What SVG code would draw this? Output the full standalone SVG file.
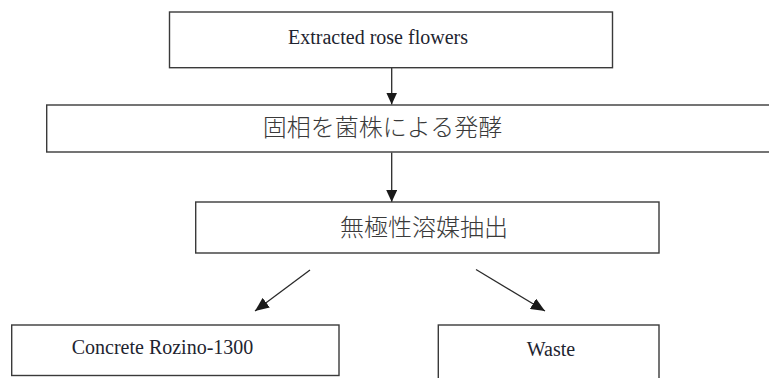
<svg xmlns="http://www.w3.org/2000/svg" width="769" height="378" viewBox="0 0 769 378">
<style>
.box{fill:#fff;stroke:#3a3a3a;stroke-width:1.4}
.en{font-family:"Liberation Serif","Times New Roman",serif;font-size:20px;fill:#1e2430;text-anchor:middle}
.jp{font-family:"Noto Sans CJK JP","Noto Sans CJK SC",sans-serif;font-size:24px;fill:#3a3a3a;text-anchor:middle;font-weight:300}
.conn{stroke:#2a2a2a;stroke-width:1.3;fill:none;marker-end:url(#ah)}
.diag{stroke:#2a2a2a;stroke-width:1.3;fill:none;marker-end:url(#ahd)}
</style>
<defs>
<marker id="ah" markerUnits="userSpaceOnUse" markerWidth="12" markerHeight="11" refX="12" refY="5.5" orient="auto">
<path d="M0,0 L12,5.5 L0,11 z" fill="#1a1a1a"/>
</marker>
<marker id="ahd" markerUnits="userSpaceOnUse" markerWidth="14" markerHeight="12" refX="14" refY="6" orient="auto">
<path d="M0,0 L14,6 L0,12 z" fill="#1a1a1a"/>
</marker>
</defs>
<rect width="769" height="378" fill="#fff"/>
<g id="connectors">
<line class="conn" x1="391.7" y1="68" x2="391.7" y2="104.5"/>
<line class="conn" x1="391.7" y1="152.5" x2="391.7" y2="202"/>
<line class="diag" x1="310" y1="270" x2="255" y2="311"/>
<line class="diag" x1="476" y1="269.5" x2="545" y2="311"/>
</g>
<g id="node-extracted">
<rect class="box" x="169.5" y="12" width="443" height="55.7"/>
<text class="en" x="378" y="44">Extracted rose flowers</text>
</g>
<g id="node-fermentation">
<rect class="box" x="46.7" y="105" width="740" height="47"/>
<text class="jp" x="382.5" y="136">固相を菌株による発酵</text>
</g>
<g id="node-extraction">
<rect class="box" x="195.7" y="202" width="463.3" height="51"/>
<text class="jp" x="424" y="235.5">無極性溶媒抽出</text>
</g>
<g id="node-concrete">
<rect class="box" x="11.7" y="325" width="327.3" height="50.5"/>
<text class="en" x="162.5" y="354">Concrete Rozino-1300</text>
</g>
<g id="node-waste">
<rect class="box" x="438.3" y="325" width="220.7" height="70"/>
<text class="en" x="551" y="356">Waste</text>
</g>
</svg>
